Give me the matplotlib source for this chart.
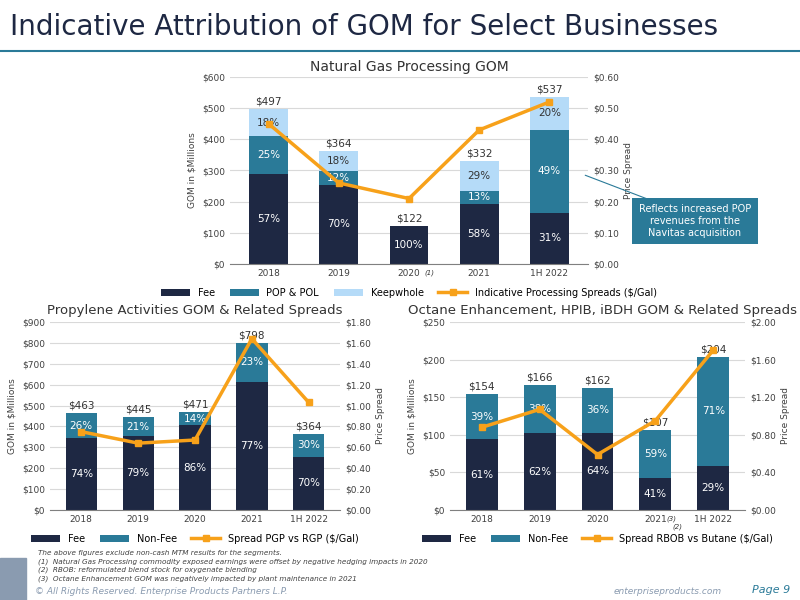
import matplotlib.pyplot as plt
import numpy as np
from matplotlib.patches import Rectangle
from matplotlib.lines import Line2D

FEE = "#1e2843"
NONFEE = "#2a7a98"
KEEP = "#b5dbf8"
ORANGE = "#f7a11a"
GRID = "#d9d9d9"

years = ["2018", "2019", "2020", "2021", "1H 2022"]

# Natural Gas Processing
ngp_fee = [290, 255, 122, 193, 165]
ngp_pop = [120, 42, 0, 42, 265]
ngp_keep = [87, 67, 0, 97, 107]
ngp_total = [497, 364, 122, 332, 537]
ngp_pct = [["57%", "25%", "18%"], ["70%", "12%", "18%"], ["100%", "", ""],
           ["58%", "13%", "29%"], ["31%", "49%", "20%"]]
ngp_spread = [0.45, 0.26, 0.21, 0.43, 0.52]

# Propylene
pro_fee = [343, 352, 405, 615, 255]
pro_total = [463, 445, 471, 798, 364]
pro_pct = [["74%", "26%"], ["79%", "21%"], ["86%", "14%"], ["77%", "23%"], ["70%", "30%"]]
pro_spread = [0.75, 0.64, 0.67, 1.64, 1.03]

# Octane
oct_fee = [94, 102, 103, 43, 58]
oct_total = [154, 166, 162, 107, 204]
oct_pct = [["61%", "39%"], ["62%", "38%"], ["64%", "36%"], ["41%", "59%"], ["29%", "71%"]]
oct_spread = [0.88, 1.07, 0.59, 0.95, 1.70]

plt.rcParams['font.family'] = ['DejaVu Sans']
plt.rcParams['font.size'] = 6.5
fig = plt.figure(figsize=(8, 6), dpi=100)
W, H = 800, 600


def ax_px(x0, y0, x1, y1):
    return fig.add_axes([x0 / W, 1 - y1 / H, (x1 - x0) / W, (y1 - y0) / H])


def style(ax, ymax, ystep, money_fmt, ax2, y2max, y2step, y2fmt, ylabel):
    x = np.arange(len(years))
    ax.set_xlim(-0.55, len(years) - 0.45)
    ax.set_ylim(0, ymax)
    ax.set_yticks(np.arange(0, ymax + 1, ystep))
    ax.set_yticklabels([money_fmt(v) for v in np.arange(0, ymax + 1, ystep)], color="#404040")
    ax.set_xticks(x)
    ax.set_xticklabels(years, color="#404040")
    ax.grid(axis="y", color=GRID, lw=0.8)
    ax.set_axisbelow(True)
    for s in ["top", "right", "left"]:
        ax.spines[s].set_visible(False)
    ax.spines["bottom"].set_color("#808080")
    ax.tick_params(length=0)
    ax.set_ylabel(ylabel, color="#404040")
    ax2.set_ylim(0, y2max)
    t2 = np.arange(0, y2max + 1e-9, y2step)
    ax2.set_yticks(t2)
    ax2.set_yticklabels([y2fmt % v for v in t2], color="#404040")
    ax2.tick_params(length=0)
    for s in ax2.spines.values():
        s.set_visible(False)
    ax2.set_ylabel("Price Spread", color="#404040")


# title
fig.text(0.012, 0.955, "Indicative Attribution of GOM for Select Businesses", fontsize=20, color="#1e2843", va="center")
fig.add_artist(Line2D([0.0, 1.0], [0.915, 0.915], color="#2a7a98", lw=1.5))

x = np.arange(len(years))
bw = 0.55

# --- Top chart ---
ax = ax_px(230, 77, 588, 264)
ax2 = ax.twinx()
ax.bar(x, ngp_fee, bw, color=FEE, label="Fee")
ax.bar(x, ngp_pop, bw, bottom=ngp_fee, color=NONFEE, label="POP & POL")
b2 = np.array(ngp_fee) + np.array(ngp_pop)
ax.bar(x, ngp_keep, bw, bottom=b2, color=KEEP, label="Keepwhole")
for i in x:
    f, p, k = ngp_pct[i]
    ax.text(i, ngp_fee[i] / 2, f, ha="center", va="center", color="white", fontsize=7.5)
    if p:
        ax.text(i, ngp_fee[i] + ngp_pop[i] / 2, p, ha="center", va="center", color="white", fontsize=7.5)
    if k:
        ax.text(i, b2[i] + ngp_keep[i] / 2, k, ha="center", va="center", color="#333333", fontsize=7.5)
    ax.text(i, ngp_total[i] + 8, "$%d" % ngp_total[i], ha="center", va="bottom", color="#333333", fontsize=7.5)
ln = ax2.plot(x, ngp_spread, color=ORANGE, lw=2.5, marker="s", ms=5, label="Indicative Processing Spreads ($/Gal)")
style(ax, 600, 100, lambda v: "$%d" % v, ax2, 0.6, 0.1, "$%.2f", "GOM in $Millions")
ax.set_title("Natural Gas Processing GOM", fontsize=10, color="#333333", pad=4)
ax.text(2.22, -35, "(1)", fontsize=5, style="italic", color="#333333")
h, l = ax.get_legend_handles_labels()
ax.legend(h + ln, l + [ln[0].get_label()], loc="upper center", bbox_to_anchor=(0.5, -0.08),
          ncol=4, frameon=False, fontsize=7, handlelength=3, columnspacing=1.5)
ax.annotate("", xy=(0.985, 0.48), xycoords="axes fraction", xytext=(1.19, 0.33),
            arrowprops=dict(arrowstyle="-", color="#2a7a98", lw=0.8))
fig.text(695 / W, 1 - 221 / H, "Reflects increased POP\nrevenues from the\nNavitas acquisition",
         ha="center", va="center", color="white", fontsize=7,
         bbox=dict(boxstyle="square,pad=0.7", fc="#2a7a98", ec="none"))


def two_stack(ax, fee, total, pct):
    nonfee = np.array(total) - np.array(fee)
    ax.bar(x, fee, bw, color=FEE, label="Fee")
    ax.bar(x, nonfee, bw, bottom=fee, color=NONFEE, label="Non-Fee")
    top = max(total)
    for i in x:
        ax.text(i, fee[i] / 2, pct[i][0], ha="center", va="center", color="white", fontsize=7.5)
        ax.text(i, fee[i] + nonfee[i] / 2, pct[i][1], ha="center", va="center", color="white", fontsize=7.5)
        ax.text(i, total[i] + top * 0.015, "$%d" % total[i], ha="center", va="bottom", color="#333333", fontsize=7.5)


# --- Propylene ---
ax = ax_px(50, 322, 340, 510)
ax2 = ax.twinx()
two_stack(ax, pro_fee, pro_total, pro_pct)
ln = ax2.plot(x, pro_spread, color=ORANGE, lw=2.5, marker="s", ms=5, label="Spread PGP vs RGP ($/Gal)")
style(ax, 900, 100, lambda v: "$%d" % v, ax2, 1.8, 0.2, "$%.2f", "GOM in $Millions")
ax.set_title("Propylene Activities GOM & Related Spreads", fontsize=9.5, color="#333333", pad=6)
h, l = ax.get_legend_handles_labels()
ax.legend(h + ln, l + [ln[0].get_label()], loc="upper center", bbox_to_anchor=(0.5, -0.08),
          ncol=3, frameon=False, fontsize=7, handlelength=3, columnspacing=1.5)

# --- Octane ---
ax = ax_px(450, 322, 745, 510)
ax2 = ax.twinx()
two_stack(ax, oct_fee, oct_total, oct_pct)
ln = ax2.plot(x, oct_spread, color=ORANGE, lw=2.5, marker="s", ms=5, label="Spread RBOB vs Butane ($/Gal)")
style(ax, 250, 50, lambda v: "$%d" % v, ax2, 2.0, 0.4, "$%.2f", "GOM in $Millions")
fig.text(602 / W, 1 - 310 / H, "Octane Enhancement, HPIB, iBDH GOM & Related Spreads",
         fontsize=9.5, color="#333333", ha="center", va="center")
ax.text(3.2, -14, "(3)", fontsize=5, style="italic", color="#333333")
ax.text(3.3, -24, "(2)", fontsize=5, style="italic", color="#333333")
h, l = ax.get_legend_handles_labels()
ax.legend(h + ln, l + [ln[0].get_label()], loc="upper center", bbox_to_anchor=(0.5, -0.08),
          ncol=3, frameon=False, fontsize=7, handlelength=3, columnspacing=1.5)

# footnotes
notes = ["The above figures exclude non-cash MTM results for the segments.",
         "(1)  Natural Gas Processing commodity exposed earnings were offset by negative hedging impacts in 2020",
         "(2)  RBOB: reformulated blend stock for oxygenate blending",
         "(3)  Octane Enhancement GOM was negatively impacted by plant maintenance in 2021"]
for k, n in enumerate(notes):
    fig.text(38 / W, 1 - (553 + k * 8.5) / H, n, fontsize=5.2, style="italic", color="#404040", va="center")

fig.add_artist(Rectangle((0, 0), 0.033, 0.07, transform=fig.transFigure, color="#8a9bb0"))
fig.text(35 / W, 1 - 592 / H, "© All Rights Reserved. Enterprise Products Partners L.P.", fontsize=6.5,
         style="italic", color="#8a9bb0", va="center")
fig.text(722 / W, 1 - 592 / H, "enterpriseproducts.com", fontsize=6.5, style="italic", color="#8a9bb0",
         ha="right", va="center")
fig.text(790 / W, 1 - 590 / H, "Page 9", fontsize=8, style="italic", color="#2a7a98", ha="right", va="center")

fig.savefig("out.png", dpi=100)
